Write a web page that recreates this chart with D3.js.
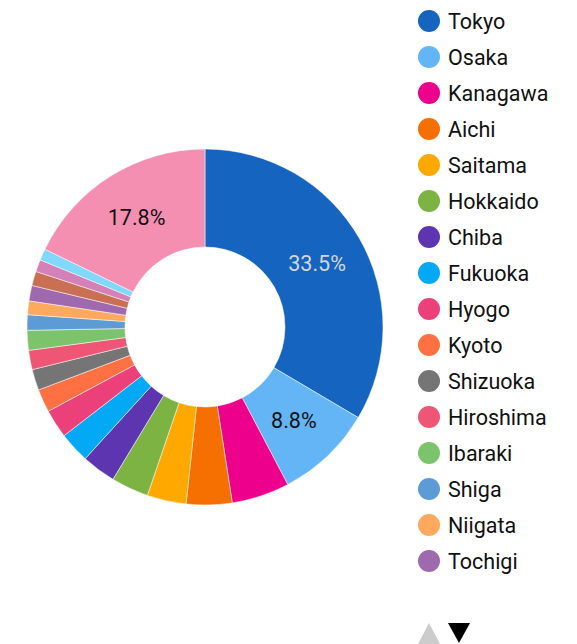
<!DOCTYPE html>
<html>
<head>
<meta charset="utf-8">
<script src="https://cdn.jsdelivr.net/npm/d3@7"></script>
<style>
  body { margin: 0; background: #fff; }
  svg { display: block; font-family: Roboto, "Noto Sans", sans-serif; }
</style>
</head>
<body>
<div id="pieChart"></div>
<script>
// prefectures, share of total (%), and slice colours
const prefectures = ["Tokyo", "Osaka", "Kanagawa", "Aichi", "Saitama", "Hokkaido", "Chiba", "Fukuoka",
  "Hyogo", "Kyoto", "Shizuoka", "Hiroshima", "Ibaraki", "Shiga", "Niigata", "Tochigi",
  "Miyagi", "Nagano", "Okinawa", "Others"];
const shares = [33.5, 8.8, 5.25, 4.15, 3.55, 3.4, 3.1, 2.8,
  2.6, 2.1, 1.9, 1.75, 1.8, 1.4, 1.25, 1.4,
  1.3, 1.1, 1.05, 17.8];
const colors = ["#1565c0", "#64b5f6", "#ec008c", "#f57000", "#ffa800", "#7cb342", "#5e35b1", "#03a9f4",
  "#ec407a", "#ff7043", "#757575", "#ef5675", "#7bc46c", "#5c9bd6", "#ffa95e", "#9e69af",
  "#c96f53", "#d381b8", "#80d8fb", "#f48fb1"];
// legend shows only the first page
const legendCount = 16;

const data = prefectures.map((p, i) => ({name: p, value: shares[i], color: colors[i]}));

const width = 577, height = 644;
const cx = 205, cy = 327, outerR = 178, innerR = 80;

const svg = d3.select("#pieChart")
  .append("svg")
  .attr("width", width)
  .attr("height", height);

const g = svg.append("g")
  .attr("transform", `translate(${cx}, ${cy})`);

const pie = d3.pie().value(d => d.value).sort(null);
const arc = d3.arc().innerRadius(innerR).outerRadius(outerR);
const labelArc = d3.arc().innerRadius((innerR + outerR) / 2).outerRadius((innerR + outerR) / 2);

const total = d3.sum(shares);
const arcs = pie(data);

g.selectAll("path.slice")
  .data(arcs)
  .join("path")
  .attr("class", "slice")
  .attr("d", arc)
  .attr("fill", d => d.data.color)
  .attr("stroke", "#fff")
  .attr("stroke-width", 0.5);

// percentage labels on the big slices
g.selectAll("text.pct")
  .data(arcs.filter(d => d.data.value / total >= 0.08))
  .join("text")
  .attr("class", "pct")
  .attr("transform", d => `translate(${labelArc.centroid(d)})`)
  .attr("text-anchor", "middle")
  .attr("dy", "0.35em")
  .style("font-size", "21.5px")
  .attr("fill", d => d.index === 0 ? "#d6d6d6" : "#111")
  .text(d => (d.data.value / total * 100).toFixed(1) + "%");

// legend
const legend = svg.append("g")
  .attr("transform", "translate(429, 21)");

const item = legend.selectAll("g.item")
  .data(data.slice(0, legendCount))
  .join("g")
  .attr("class", "item")
  .attr("transform", (d, i) => `translate(0, ${i * 36})`);

item.append("circle")
  .attr("r", 11)
  .attr("fill", d => d.color);

item.append("text")
  .attr("x", 19)
  .attr("dy", "0.35em")
  .style("font-size", "21.5px")
  .attr("fill", "#111")
  .text(d => d.name);

// page arrows
const nav = svg.append("g").attr("transform", "translate(0, 623)");
nav.append("path")
  .attr("d", "M418,21 L429,0 L440,21 Z")
  .attr("fill", "#cccccc");
nav.append("path")
  .attr("d", "M448,0 L470,0 L459,20 Z")
  .attr("fill", "#000");
</script>
</body>
</html>
